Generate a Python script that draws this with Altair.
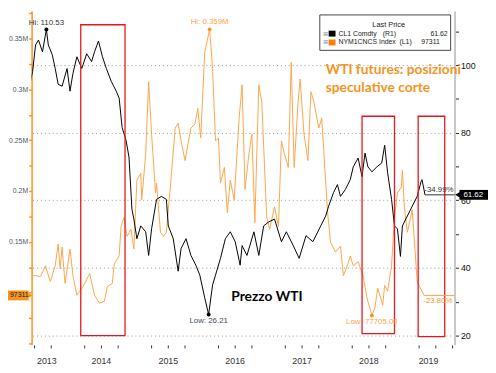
import altair as alt
import pandas as pd

OX, OY = 32, 8          # screen position of the plot origin
W, H = 430, 339
VIS_START = 2013.368
X_MIN, X_MAX = 2013.456, 2019.780
R_MIN, R_MAX = 17.38, 116.0
L_MIN, L_MAX = 49130, 377080

# CL1 Comdty (WTI price, right axis) - decimal year / value
black_t = [2013.368, 2013.412, 2013.471, 2013.515, 2013.559, 2013.618, 2013.677, 2013.706, 2013.765, 2013.809,
           2013.853, 2013.912, 2013.986, 2014.030, 2014.074, 2014.133, 2014.206, 2014.280, 2014.353, 2014.397,
           2014.456, 2014.515, 2014.574, 2014.647, 2014.721, 2014.765, 2014.809, 2014.868, 2014.912, 2014.956,
           2014.985, 2015.030, 2015.088, 2015.162, 2015.206, 2015.250, 2015.324, 2015.397, 2015.471, 2015.500,
           2015.574, 2015.647, 2015.691, 2015.765, 2015.838, 2015.912, 2015.971, 2016.044, 2016.103, 2016.162,
           2016.206, 2016.280, 2016.353, 2016.427, 2016.500, 2016.574, 2016.603, 2016.676, 2016.780, 2016.853,
           2016.926, 2017.000, 2017.088, 2017.191, 2017.265, 2017.368, 2017.456, 2017.559, 2017.662, 2017.779,
           2017.853, 2017.897, 2017.971, 2018.029, 2018.074, 2018.147, 2018.221, 2018.265, 2018.338, 2018.397,
           2018.441, 2018.485, 2018.544, 2018.618, 2018.691, 2018.735, 2018.779, 2018.838, 2018.882, 2018.926,
           2018.971, 2019.000, 2019.074, 2019.147, 2019.221, 2019.279, 2019.294, 2019.338]
black_v = [96.07, 92.87, 98.11, 105.96, 107.42, 103.93, 110.53, 105.96, 103.05, 98.98,
           94.33, 93.75, 98.98, 92.29, 97.53, 102.47, 98.98, 103.35, 101.02, 103.93,
           107.13, 102.47, 98.98, 95.20, 92.29, 90.25, 81.53, 77.75, 72.80, 57.38,
           54.47, 48.65, 52.44, 50.69, 43.71, 51.56, 60.29, 61.16, 60.29, 52.44,
           48.65, 39.05, 45.75, 48.65, 43.71, 40.80, 37.89, 31.20, 26.21, 34.98,
           37.89, 42.84, 48.65, 50.69, 47.78, 40.80, 46.62, 43.71, 50.69, 43.71,
           52.44, 53.60, 54.47, 47.78, 50.69, 46.62, 42.84, 49.53, 47.78, 52.44,
           55.35, 58.25, 62.33, 64.65, 61.16, 63.20, 66.11, 69.89, 72.51, 66.98,
           73.96, 69.89, 68.44, 69.89, 71.05, 76.29, 68.15, 60.29, 52.44, 51.56,
           43.42, 52.44, 55.35, 58.25, 61.16, 65.53, 66.11, 61.62]

# NYM1CNCS Index (short positions, left axis)
orange_t = [2013.368, 2013.442, 2013.515, 2013.589, 2013.662, 2013.736, 2013.809, 2013.853, 2013.883, 2013.912,
            2013.956, 2014.030, 2014.074, 2014.133, 2014.177, 2014.250, 2014.324, 2014.397, 2014.471, 2014.544,
            2014.589, 2014.662, 2014.692, 2014.765, 2014.794, 2014.838, 2014.883, 2014.941, 2014.985, 2015.030,
            2015.088, 2015.103, 2015.162, 2015.206, 2015.250, 2015.309, 2015.324, 2015.383, 2015.427, 2015.471,
            2015.530, 2015.603, 2015.647, 2015.691, 2015.750, 2015.794, 2015.838, 2015.897, 2015.941, 2015.985,
            2016.044, 2016.118, 2016.162, 2016.206, 2016.250, 2016.280, 2016.338, 2016.383, 2016.427, 2016.485,
            2016.559, 2016.603, 2016.647, 2016.706, 2016.750, 2016.794, 2016.853, 2016.897, 2016.971, 2017.015,
            2017.088, 2017.147, 2017.191, 2017.235, 2017.294, 2017.338, 2017.382, 2017.441, 2017.471, 2017.529,
            2017.588, 2017.632, 2017.676, 2017.750, 2017.794, 2017.824, 2017.882, 2017.926, 2018.000, 2018.074,
            2018.118, 2018.176, 2018.221, 2018.265, 2018.338, 2018.412, 2018.471, 2018.544, 2018.588, 2018.632,
            2018.706, 2018.735, 2018.779, 2018.838, 2018.882, 2018.926, 2018.985, 2019.000, 2019.029, 2019.074,
            2019.147, 2019.221, 2019.324]
orange_v = [128400, 116800, 116800, 115900, 126500, 111000, 126500, 147800, 123600, 144900,
            109100, 142900, 116800, 97500, 101400, 109100, 118800, 97500, 89700, 91700,
            106200, 109100, 128400, 136200, 165200, 173900, 155500, 162300, 142900, 210600,
            217400, 191300, 236800, 307400, 256100, 198100, 207700, 159400, 155500, 159400,
            203900, 261900, 266700, 249300, 229900, 246400, 261900, 265800, 281200, 252200,
            336300, 359000, 320300, 249300, 252200, 207700, 223200, 178700, 210600, 191300,
            271600, 304500, 201600, 236800, 256100, 169000, 304500, 288000, 174900, 162300,
            184500, 165200, 249300, 236800, 223200, 326700, 223200, 288000, 310200, 256100,
            229900, 297700, 288000, 261900, 271600, 239700, 178700, 149700, 140000, 145800,
            116800, 126500, 136200, 126500, 130400, 116800, 94600, 77705, 84900, 104300,
            87800, 107200, 101400, 126500, 174900, 198100, 203900, 220300, 184500, 159400,
            181600, 111000, 97311]

years = [2013, 2014, 2015, 2016, 2017, 2018, 2019]
year_bounds = [2014, 2015, 2016, 2017, 2018, 2019]
quarter_ticks = [2013.5, 2013.75, 2014.25, 2014.5, 2014.75, 2015.25, 2015.5, 2015.75,
                 2016.25, 2016.5, 2016.75, 2017.25, 2017.5, 2017.75, 2018.25, 2018.5,
                 2018.75, 2019.25, 2019.5, 2019.75]
right_ticks = [20, 30, 40, 50, 60, 70, 80, 90, 100, 110]
left_ticks = [50000, 75000, 100000, 125000, 150000, 175000, 200000, 225000, 250000,
              275000, 300000, 325000, 350000, 375000]

box_t0 = [2014.191, 2018.397, 2019.236]
box_t1 = [2014.853, 2018.882, 2019.633]
box_top = [111.93, 84.87, 84.87]
box_bot = [20.0, 20.58, 19.71]

ORANGE_LINE = "#ffa448"
ORANGE_TXT = "#f7941d"
FONT = "Liberation Sans"


def px(sx):
    return sx - OX


def py(sy):
    return sy - OY


xs = alt.Scale(domain=[X_MIN, X_MAX], nice=False, zero=False)
yr = alt.Scale(domain=[R_MIN, R_MAX], nice=False, zero=False)
yl = alt.Scale(domain=[L_MIN, L_MAX], nice=False, zero=False)

x_axis = alt.Axis(values=year_bounds, labels=False, title=None, tickSize=26, tickColor="#b4b4b4",
                  tickWidth=1.5, grid=True, gridColor="#9a9a9a", gridDash=[1, 3], gridWidth=1,
                  domainColor="#2a2a2a", domainWidth=2.5)

df_black = pd.DataFrame({"t": black_t, "v": black_v})
df_orange = pd.DataFrame({"t": orange_t, "v": orange_v})
one = pd.DataFrame({"a": [0]})

orange_line = alt.Chart(df_orange).mark_line(color=ORANGE_LINE, strokeWidth=1, clip=True).encode(
    x=alt.X("t:Q", scale=xs, axis=None),
    y=alt.Y("v:Q", scale=yl, axis=alt.Axis(
        orient="left", values=left_ticks, title=None, grid=False,
        labelExpr="datum.value % 50000 == 0 && datum.value >= 150000 && datum.value <= 350000 ? format(datum.value/1000000, '.2~f') + 'M' : ''",
        labelColor="#4d5965", labelFontSize=7, labelFont=FONT, labelPadding=1,
        tickColor=ORANGE_TXT, tickSize=3, tickWidth=1.5,
        domainColor=ORANGE_TXT, domainWidth=1.5)),
)

black_line = alt.Chart(df_black).mark_line(color="#000000", strokeWidth=1, clip=True).encode(
    x=alt.X("t:Q", scale=xs, axis=x_axis),
    y=alt.Y("v:Q", scale=yr, axis=alt.Axis(
        orient="right", values=right_ticks, title=None, grid=True,
        gridColor="#9a9a9a", gridDash=[1, 3],
        gridOpacity={"condition": {"test": "datum.value % 20 == 0 && datum.value <= 100", "value": 1}, "value": 0},
        labelExpr="datum.value % 20 == 0 && datum.value <= 100 ? datum.label : ''",
        labelColor="#111111", labelFontSize=9, labelFont=FONT, labelPadding=2,
        tickColor="#222222", tickSize=4, tickWidth=1,
        domainColor="#c8c8c8", domainWidth=2)),
)

# small quarter ticks under the time axis
q_ticks = alt.Chart(pd.DataFrame({"t": quarter_ticks})).mark_rule(color="#333333", strokeWidth=1).encode(
    x=alt.X("t:Q", scale=xs, axis=None), y=alt.value(H + 1), y2=alt.value(H + 4))

# red boxes
df_box = pd.DataFrame({"t0": box_t0, "t1": box_t1, "top": box_top, "bot": box_bot})
boxes = alt.Chart(df_box).mark_rect(fillOpacity=0, stroke="#e8141c", strokeWidth=1.3).encode(
    x=alt.X("t0:Q", scale=xs, axis=None), x2="t1:Q",
    y=alt.Y("top:Q", scale=yr, axis=None), y2="bot:Q",
)

# last value lines
last_black = alt.Chart(pd.DataFrame({"t": [black_t[-1]], "v": [black_v[-1]]})).mark_rule(
    color="#333333", strokeWidth=1).encode(
    x=alt.X("t:Q", scale=xs, axis=None), x2=alt.value(W), y=alt.Y("v:Q", scale=yr, axis=None))
last_orange = alt.Chart(pd.DataFrame({"t": [orange_t[-1]], "v": [orange_v[-1]]})).mark_rule(
    color=ORANGE_LINE, strokeWidth=1).encode(
    x=alt.X("t:Q", scale=xs, axis=None), x2=alt.value(W), y=alt.Y("v:Q", scale=yl, axis=None))

pct_black = alt.Chart(pd.DataFrame({"v": [black_v[-1]], "s": ["-34.99%"]})).mark_text(
    align="right", baseline="bottom", dx=-1, dy=-1, fontSize=8, font=FONT, color="#333333").encode(
    x=alt.value(W), y=alt.Y("v:Q", scale=yr, axis=None), text="s:N")
pct_orange = alt.Chart(pd.DataFrame({"v": [orange_v[-1]], "s": ["-23.80%"]})).mark_text(
    align="right", baseline="top", dx=-2, dy=2, fontSize=8, font=FONT, color=ORANGE_TXT).encode(
    x=alt.value(W), y=alt.Y("v:Q", scale=yl, axis=None), text="s:N")

# Hi / Low markers
hb_i = black_v.index(max(black_v))
lb_i = black_v.index(min(black_v))
ho_i = orange_v.index(max(orange_v))
lo_i = orange_v.index(min(orange_v))
df_bm = pd.DataFrame({"t": [black_t[hb_i], black_t[lb_i]], "v": [black_v[hb_i], black_v[lb_i]],
                      "s": ["Hi: 110.53", "Low: 26.21"]})
df_om = pd.DataFrame({"t": [orange_t[ho_i], orange_t[lo_i]], "v": [orange_v[ho_i], orange_v[lo_i]],
                      "s": ["Hi: 0.359M", "Low: 77705.00"]})
bm_pts = alt.Chart(df_bm).mark_circle(size=16, color="#000000", opacity=1).encode(
    x=alt.X("t:Q", scale=xs, axis=None), y=alt.Y("v:Q", scale=yr, axis=None))
om_pts = alt.Chart(df_om).mark_circle(size=16, color=ORANGE_TXT, opacity=1).encode(
    x=alt.X("t:Q", scale=xs, axis=None), y=alt.Y("v:Q", scale=yl, axis=None))
bm_hi = alt.Chart(df_bm.iloc[[0]]).mark_text(dy=-3, baseline="bottom", fontSize=8, font=FONT, color="#333333").encode(
    x=alt.X("t:Q", scale=xs, axis=None), y=alt.Y("v:Q", scale=yr, axis=None), text="s:N")
bm_lo = alt.Chart(df_bm.iloc[[1]]).mark_text(dy=3, baseline="top", fontSize=8, font=FONT, color="#3d4a5a").encode(
    x=alt.X("t:Q", scale=xs, axis=None), y=alt.Y("v:Q", scale=yr, axis=None), text="s:N")
om_hi = alt.Chart(df_om.iloc[[0]]).mark_text(dy=-3, baseline="bottom", fontSize=8, font=FONT, color=ORANGE_LINE).encode(
    x=alt.X("t:Q", scale=xs, axis=None), y=alt.Y("v:Q", scale=yl, axis=None), text="s:N")
om_lo = alt.Chart(df_om.iloc[[1]]).mark_text(dy=3, baseline="top", fontSize=8, font=FONT, color=ORANGE_LINE).encode(
    x=alt.X("t:Q", scale=xs, axis=None), y=alt.Y("v:Q", scale=yl, axis=None), text="s:N")

# year labels centred in visible part of each year
yc = [(max(y, VIS_START) + min(y + 1, X_MAX)) / 2 for y in years]
year_lbl = alt.Chart(pd.DataFrame({"t": yc, "s": [str(y) for y in years]})).mark_text(
    fontSize=9, font=FONT, color="#333333", baseline="middle").encode(
    x=alt.X("t:Q", scale=xs, axis=None), y=alt.value(H + 17), text="s:N")

# titles
title_txt = alt.Chart(one).mark_text(
    text="WTI futures: posizioni\nspeculative corte", lineBreak="\n", lineHeight=18,
    align="left", baseline="alphabetic", font="Lato", fontWeight="bold", fontSize=14,
    color=ORANGE_TXT).encode(x=alt.value(px(331)), y=alt.value(py(72)))
prezzo_txt = alt.Chart(one).mark_text(
    text="Prezzo WTI", align="left", baseline="alphabetic", font="Lato", fontWeight="bold",
    fontSize=14, color="#000000").encode(x=alt.value(px(235)), y=alt.value(py(303)))

# legend box
leg_box = alt.Chart(one).mark_rect(fill="#ffffff", stroke="#444444", strokeWidth=1).encode(
    x=alt.value(px(325)), x2=alt.value(px(458)), y=alt.value(py(12)), y2=alt.value(py(48)))
leg_title = alt.Chart(one).mark_text(text="Last Price", fontSize=7.5, font=FONT, color="#222222").encode(
    x=alt.value(px(395)), y=alt.value(py(22)))
leg_sq_b = alt.Chart(one).mark_rect(fill="#000000").encode(
    x=alt.value(px(334)), x2=alt.value(px(341)), y=alt.value(py(28)), y2=alt.value(py(34)))
leg_sq_o = alt.Chart(one).mark_rect(fill="#ff8000").encode(
    x=alt.value(px(334)), x2=alt.value(px(341)), y=alt.value(py(37)), y2=alt.value(py(43)))
leg_plus = alt.Chart(pd.DataFrame({"y": [py(31), py(40)]})).mark_text(
    text="⊞", fontSize=6, font="DejaVu Sans", color="#888888").encode(
    x=alt.value(px(331)), y=alt.Y("y:Q", scale=None))
leg_l = alt.Chart(pd.DataFrame({"s": ["CL1 Comdty", "NYM1CNCS Index"], "y": [py(31), py(40)]})).mark_text(
    align="left", fontSize=7, font=FONT, color="#222222").encode(
    x=alt.value(px(344)), y=alt.Y("y:Q", scale=None), text="s:N")
leg_m = alt.Chart(pd.DataFrame({"s": ["(R1)", "(L1)"], "x": [px(389), px(406)], "y": [py(31), py(40)]})).mark_text(
    align="left", fontSize=7, font=FONT, color="#222222").encode(
    x=alt.X("x:Q", scale=None), y=alt.Y("y:Q", scale=None), text="s:N")
leg_r = alt.Chart(pd.DataFrame({"s": ["61.62", "97311"], "x": [px(455), px(447)], "y": [py(31), py(40)]})).mark_text(
    align="right", fontSize=7, font=FONT, color="#222222").encode(
    x=alt.X("x:Q", scale=None), y=alt.Y("y:Q", scale=None), text="s:N")

# value tags
df_tb = pd.DataFrame({"v": [black_v[-1]], "s": ["61.62"]})
tag_b = alt.Chart(df_tb).mark_rect(fill="#000000", yOffset=-5, y2Offset=5).encode(
    x=alt.value(W + 5), x2=alt.value(W + 34), y=alt.Y("v:Q", scale=yr, axis=None), y2="v:Q")
tag_b_tri = alt.Chart(df_tb).mark_point(shape="triangle-left", filled=True, color="#000000", size=60, opacity=1).encode(
    x=alt.value(W + 4), y=alt.Y("v:Q", scale=yr, axis=None))
tag_b_txt = alt.Chart(df_tb).mark_text(fontSize=8, font=FONT, color="#ffffff", align="center").encode(
    x=alt.value(W + 19), y=alt.Y("v:Q", scale=yr, axis=None), text="s:N")

df_to = pd.DataFrame({"v": [orange_v[-1]], "s": ["97311"]})
tag_o = alt.Chart(df_to).mark_rect(fill="#f7941d", yOffset=-5, y2Offset=5).encode(
    x=alt.value(px(6)), x2=alt.value(px(29)), y=alt.Y("v:Q", scale=yl, axis=None), y2="v:Q")
tag_o_tri = alt.Chart(df_to).mark_point(shape="triangle-right", filled=True, color="#f7941d", size=50, opacity=1).encode(
    x=alt.value(px(30)), y=alt.Y("v:Q", scale=yl, axis=None))
tag_o_txt = alt.Chart(df_to).mark_text(fontSize=7, font=FONT, color="#222222", align="right").encode(
    x=alt.value(px(29)), y=alt.Y("v:Q", scale=yl, axis=None), text="s:N")

chart = alt.layer(
    orange_line, black_line, q_ticks, boxes, last_black, last_orange, pct_black, pct_orange,
    bm_pts, om_pts, bm_hi, bm_lo, om_hi, om_lo, year_lbl, title_txt, prezzo_txt,
    leg_box, leg_title, leg_sq_b, leg_sq_o, leg_plus, leg_l, leg_m, leg_r,
    tag_b, tag_b_tri, tag_b_txt, tag_o, tag_o_tri, tag_o_txt,
).resolve_scale(y="independent").properties(
    width=W, height=H,
    autosize=alt.AutoSizeParams(type="none"),
    padding={"left": OX - 8, "right": 496 - 8 - (OX - 8) - W, "top": 0, "bottom": 26},
    background="#ffffff",
).configure_view(stroke=None).configure_text(font=FONT)

chart.save("out.html", embed_options={"renderer": "svg", "actions": False})
